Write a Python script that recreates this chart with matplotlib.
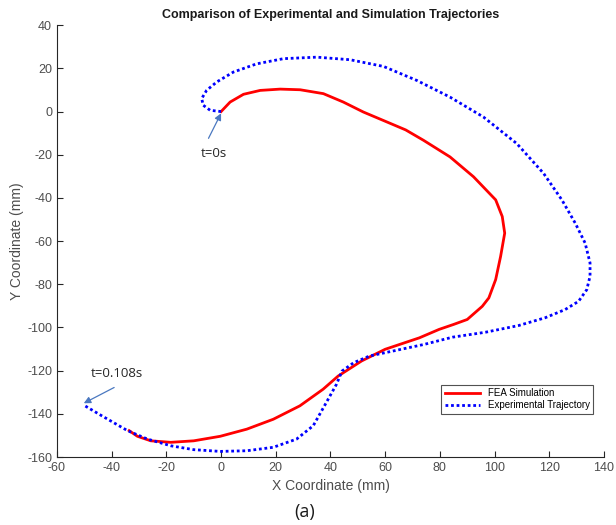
import numpy as np
import matplotlib.pyplot as plt

# FEA simulation trajectory (mm)
fea_x = [0, 3.3, 8.2, 14.3, 21.6, 28.9, 37.4, 44.7, 52, 60.6, 67.5, 74, 83.7, 92.3,
         100.4, 102.8, 103.7, 102.2, 100.4, 97.9, 95.5, 90, 85, 79.7, 72.5, 60, 51.4,
         42.8, 37.3, 28.8, 19.1, 9.4, -0.3, -10, -18.4, -25.7, -30.6, -33.6]
fea_y = [0, 4.4, 8, 9.8, 10.4, 10.1, 8.3, 4.4, -0.2, -4.8, -8.5, -13.3, -21, -30.2,
         -40.9, -48.6, -56.3, -67.1, -77.8, -86.3, -90.2, -96.3, -98.6, -100.9,
         -104.8, -110.1, -115.5, -122.5, -128.6, -136.3, -142.5, -147.1, -150.4,
         -152.5, -153.2, -152.5, -150.4, -147.8]

# experimental trajectory (mm)
exp_x = [0, -4, -6.5, -7.1, -5.3, -1.6, 4.5, 13, 22.8, 35, 47.2, 59.4, 71.6, 83.7,
         95.9, 108.1, 117.9, 124.6, 129.5, 133.1, 134.9, 134.9, 133.7, 130.7, 125.8,
         118.5, 108.8, 96.7, 84.6, 74.4, 62.9, 54.3, 48.5, 44.2, 42.2, 38.5, 33.7,
         27.6, 19.1, 9.4, -0.3, -10, -18.4, -26.9, -34.2, -43.9, -50.3]
exp_y = [0, 0.6, 2.9, 6, 9.8, 13.7, 18.3, 22.1, 24.5, 25.2, 24, 20.9, 14.4, 6.7,
         -2.5, -14.8, -28.6, -40.9, -51.7, -60.9, -70.1, -76.3, -82.5, -87.9, -91.7,
         -95.5, -99.1, -102.2, -104.5, -107.8, -110.9, -113.2, -116.3, -120.2,
         -126.3, -134.7, -145.5, -151.7, -155.5, -157.1, -157.4, -156.6, -154.8,
         -151.7, -147.8, -140.7, -135.9]

xticks = np.arange(-60, 141, 20)
yticks = np.arange(-160, 41, 20)

plt.rcParams['font.family'] = ['Liberation Sans', 'DejaVu Sans']
plt.rcParams['axes.unicode_minus'] = False

fig = plt.figure(figsize=(6.16, 5.25), dpi=100)
ax = fig.add_axes([0.0925, 0.1295, 0.888, 0.8225])

ax.plot(fea_x, fea_y, '-', color='#ff0000', lw=2, label='FEA Simulation')
ax.plot(exp_x, exp_y, color='#0000ff', lw=2, linestyle=(0, (1, 1)),
        label='Experimental Trajectory')

ax.set_xlim(-60, 140)
ax.set_ylim(-160, 40)
ax.set_xticks(xticks)
ax.set_yticks(yticks)
for s in ['top', 'right']:
    ax.spines[s].set_visible(False)
for s in ['left', 'bottom']:
    ax.spines[s].set_color('#262626')
    ax.spines[s].set_linewidth(0.8)
ax.tick_params(direction='in', length=4, width=0.8, colors='#262626',
               labelcolor='#4d4d4d', labelsize=9)

ax.set_xlabel('X Coordinate (mm)', fontsize=10, color='#4d4d4d', labelpad=4)
ax.set_ylabel('Y Coordinate (mm)', fontsize=10, color='#4d4d4d', labelpad=2)
ax.set_title('Comparison of Experimental and Simulation Trajectories',
             fontsize=9, fontweight='bold', color='#1a1a1a', pad=5)

leg = ax.legend(loc='lower right', bbox_to_anchor=(0.98, 0.1), fontsize=7,
                frameon=True, fancybox=False, borderpad=0.35, handlelength=3.6,
                labelspacing=0.25, borderaxespad=0.0)
leg.get_frame().set_edgecolor('#262626')
leg.get_frame().set_linewidth(0.8)

arrow = dict(arrowstyle='-|>', color='#4a78c0', lw=0.9, mutation_scale=10,
             shrinkA=0, shrinkB=0)
ax.annotate('', xy=(0, -0.8), xytext=(-4.6, -12.4), arrowprops=arrow)
ax.text(-2.5, -19.5, 't=0s', fontsize=9.5, ha='center', va='center',
        color='#262626', family=['Open Sans', 'DejaVu Sans'])
ax.annotate('', xy=(-50.2, -135.1), xytext=(-39.1, -127.8), arrowprops=arrow)
ax.text(-38, -121.2, 't=0.108s', fontsize=9.5, ha='center', va='center',
        color='#262626', family=['Open Sans', 'DejaVu Sans'])

fig.text(0.495, 0.025, '(a)', fontsize=13, ha='center', va='center',
         color='#1a1a1a', family=['Open Sans', 'DejaVu Sans'])

fig.savefig('out.png', dpi=100)
